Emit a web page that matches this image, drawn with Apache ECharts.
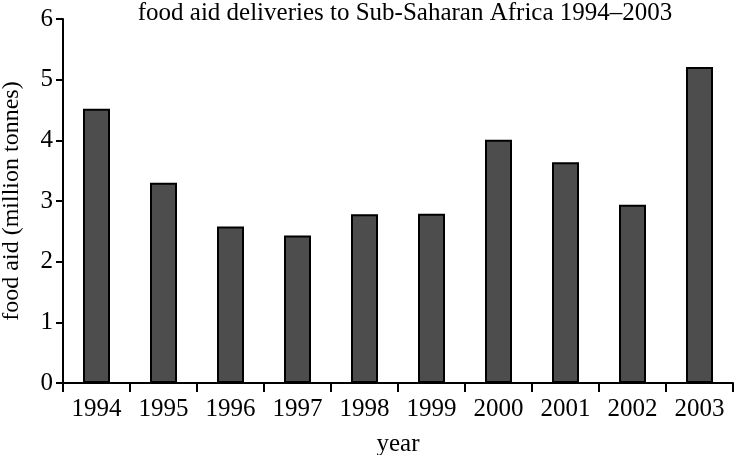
<!DOCTYPE html>
<html>
<head>
<meta charset="utf-8">
<script src="https://cdn.jsdelivr.net/npm/echarts@6/dist/echarts.min.js"></script>
<style>
  html, body { margin: 0; padding: 0; background: #fff; }
  #chart { width: 734px; height: 455px; }
</style>
</head>
<body>
<div id="chart"></div>
<script>
// 数据
var years = ['1994', '1995', '1996', '1997', '1998', '1999', '2000', '2001', '2002', '2003'];
var foodAid = [4.52, 3.30, 2.58, 2.43, 2.78, 2.79, 4.01, 3.64, 2.94, 5.21];
var yTicks = [0, 1, 2, 3, 4, 5, 6];

var serif = '"Liberation Serif", "DejaVu Serif", serif';

var chart = echarts.init(document.getElementById('chart'));

var option = {
  animation: false,
  backgroundColor: '#fff',
  title: {
    text: 'food aid deliveries to Sub-Saharan Africa 1994\u20132003',
    left: 400,
    textAlign: 'center',
    top: -4,
    textStyle: { fontFamily: serif, fontSize: 25, fontWeight: 'normal', color: '#000' }
  },
  grid: { left: 63, right: 1, top: 19, bottom: 72, outerBoundsMode: 'none', containLabel: false },
  xAxis: {
    type: 'category',
    data: years,
    name: 'year',
    nameLocation: 'middle',
    nameGap: 49,
    nameMoveOverlap: false,
    nameTextStyle: { fontFamily: serif, fontSize: 25, color: '#000' },
    axisLine: { lineStyle: { color: '#000', width: 2 } },
    axisTick: { show: true, length: 9, alignWithLabel: false, lineStyle: { color: '#000', width: 2 } },
    axisLabel: { fontFamily: serif, fontSize: 25, color: '#000', margin: 14 }
  },
  yAxis: {
    type: 'value',
    min: yTicks[0],
    max: yTicks[yTicks.length - 1],
    interval: 1,
    name: 'food aid (million tonnes)',
    nameLocation: 'middle',
    nameGap: 39,
    nameMoveOverlap: false,
    nameTextStyle: { fontFamily: serif, fontSize: 24, color: '#000' },
    splitLine: { show: false },
    axisLine: { show: true, lineStyle: { color: '#000', width: 2 } },
    axisTick: { show: true, length: 7, lineStyle: { color: '#000', width: 2 } },
    axisLabel: { fontFamily: serif, fontSize: 25, color: '#000', margin: 10 }
  },
  series: [{
    type: 'bar',
    data: foodAid,
    barWidth: 27,
    itemStyle: { color: '#4d4d4d', borderColor: '#000', borderWidth: 2 }
  }]
};

chart.setOption(option);
</script>
</body>
</html>
